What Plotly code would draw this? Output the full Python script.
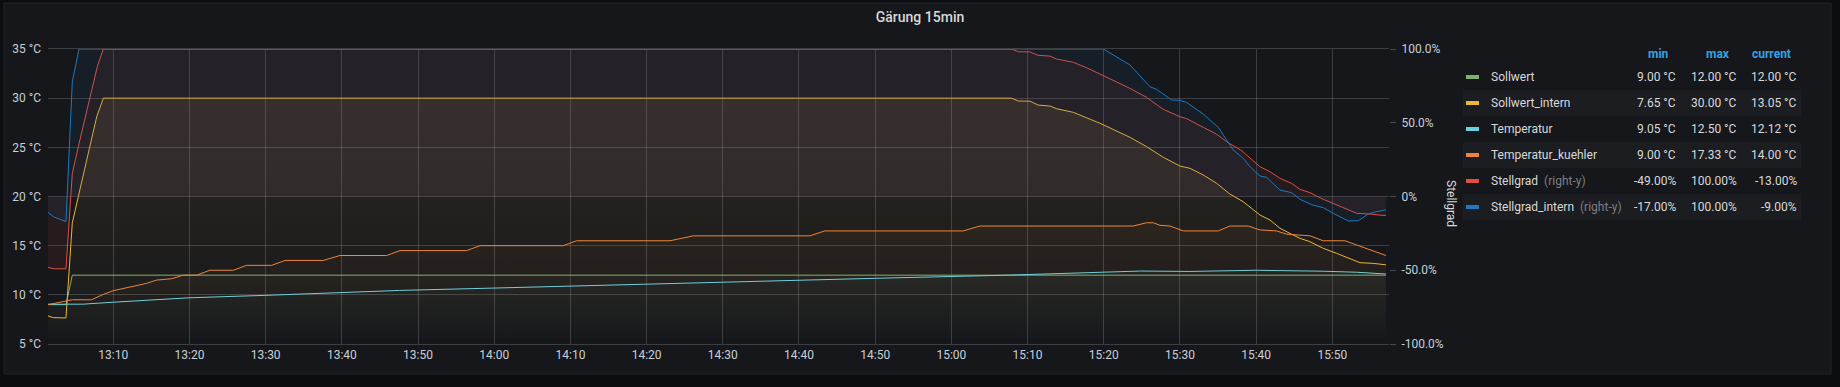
import pandas as pd
import plotly.graph_objects as go

BASE = pd.Timestamp("2021-03-20 13:00:00")

# ---- data (minutes after 13:00, values) ----
sollwert_t = [1.43, 3.79, 4.62, 177.04]
sollwert_v = [9.0, 9.0, 12.0, 12.0]

sollwert_intern_t = [1.43, 2.13, 3.79, 4.62, 5.41, 7.82, 8.69, 127.9, 128.78, 130.31,
                     131.4, 132.94, 133.82, 136.0, 137.76, 139.5, 143.44, 145.63, 147.81, 150.0,
                     151.31, 153.06, 154.82, 156.56, 158.31, 160.5, 161.82, 163.13, 164.66, 165.75,
                     167.07, 168.81, 170.57, 171.88, 173.63, 175.38, 177.04]
sollwert_intern_v = [7.85, 7.68, 7.65, 17.34, 20.0, 28.1, 30.0, 30.0, 29.71, 29.7,
                     29.3, 29.2, 28.93, 28.56, 28.0, 27.45, 26.02, 25.07, 23.99, 23.1,
                     22.87, 22.19, 21.34, 20.25, 19.47, 18.12, 17.61, 16.77, 16.16, 15.75,
                     15.4, 14.73, 14.22, 13.82, 13.27, 13.2, 13.05]

temperatur_t = [1.43, 6.0, 10.0, 20.0, 30.0, 40.0, 47.6, 58.0, 70.0, 82.0,
                93.5, 110.0, 127.3, 139.0, 144.8, 151.3, 160.0, 168.8, 173.2, 177.04]
temperatur_v = [9.05, 9.05, 9.25, 9.7, 9.95, 10.25, 10.45, 10.65, 10.9, 11.1,
                11.35, 11.68, 12.0, 12.25, 12.42, 12.38, 12.5, 12.4, 12.3, 12.12]

kuehler_t = [1.43, 3.79, 4.62, 7.16, 8.69, 10.0, 11.31, 12.85, 14.38, 15.69,
             17.66, 19.19, 20.94, 22.69, 25.75, 27.5, 30.79, 32.54, 37.56, 39.75,
             45.88, 47.63, 56.38, 58.13, 69.06, 70.82, 83.07, 86.13, 101.43, 103.4,
             121.57, 123.75, 143.87, 145.63, 146.5, 147.38, 148.69, 150.44, 155.03, 156.56,
             158.97, 160.5, 162.7, 164.0, 167.07, 168.81, 171.66, 173.2, 174.94, 177.04]
kuehler_v = [9.0, 9.37, 9.5, 9.5, 10.05, 10.42, 10.66, 10.93, 11.17, 11.5,
             11.64, 12.0, 12.0, 12.5, 12.5, 13.0, 13.0, 13.5, 13.5, 14.0,
             14.0, 14.5, 14.5, 15.0, 15.0, 15.5, 15.5, 16.0, 16.0, 16.5,
             16.5, 17.0, 17.0, 17.33, 17.33, 17.07, 17.0, 16.5, 16.5, 17.0,
             17.0, 16.6, 16.5, 16.17, 16.0, 15.5, 15.5, 15.07, 14.56, 14.0]

stellgrad_t = [1.43, 2.13, 3.79, 4.62, 5.41, 7.16, 7.9, 8.69, 127.9, 128.78,
               130.31, 131.4, 132.94, 133.82, 136.0, 137.76, 139.5, 143.44, 145.63, 147.81,
               150.0, 150.88, 153.06, 154.82, 156.13, 158.1, 160.5, 161.82, 163.13, 164.66,
               165.75, 167.07, 168.81, 170.13, 171.88, 173.2, 174.94, 177.04]
stellgrad_v = [-48, -49, -49, 15.7, 33.8, 72, 88, 100, 100, 98.2,
               98, 95.7, 95.2, 93.2, 91, 87.3, 83, 73.3, 67.2, 59.1,
               54.1, 52.8, 46.9, 42.2, 37.2, 31.1, 20.2, 16.8, 12.3, 8.9,
               4.9, 2.6, -1.9, -4.6, -8.3, -11.4, -11.9, -13.0]

stellgrad_intern_t = [1.43, 2.13, 3.79, 4.62, 5.5, 139.94, 143.44, 146.07, 146.94, 148.91,
                      150.0, 150.88, 153.06, 155.03, 157.0, 158.31, 159.19, 160.5, 161.38, 163.13,
                      164.66, 165.75, 167.29, 168.81, 170.13, 172.09, 173.41, 174.72, 175.82, 177.04]
stellgrad_intern_v = [-10.7, -13.7, -17.0, 77.8, 100, 100, 89.2, 74.4, 72.7, 65.4,
                      65.2, 63.8, 55.9, 46.9, 31.5, 25.9, 20.2, 13.9, 13.0, 4.4,
                      2.6, -1.9, -5.6, -7.6, -11.4, -16.6, -16.4, -11.9, -10.3, -9.0]

series_names = ["Sollwert", "Sollwert_intern", "Temperatur", "Temperatur_kuehler",
                "Stellgrad", "Stellgrad_intern"]
series_right = [False, False, False, False, True, True]
legend_min = ["9.00 °C", "7.65 °C", "9.05 °C", "9.00 °C", "-49.00%", "-17.00%"]
legend_max = ["12.00 °C", "30.00 °C", "12.50 °C", "17.33 °C", "100.00%", "100.00%"]
legend_cur = ["12.00 °C", "13.05 °C", "12.12 °C", "14.00 °C", "-13.00%", "-9.00%"]

left_ticks = [5, 10, 15, 20, 25, 30, 35]
left_ticktext = ["5 °C", "10 °C", "15 °C", "20 °C", "25 °C", "30 °C", "35 °C"]
right_ticks = [-100, -50, 0, 50, 100]
right_ticktext = ["-100.0%", "-50.0%", "0%", "50.0%", "100.0%"]

# ---- style ----
COLORS = {"Sollwert": (126, 178, 109), "Sollwert_intern": (234, 184, 57),
          "Temperatur": (110, 208, 224), "Temperatur_kuehler": (239, 132, 60),
          "Stellgrad": (226, 77, 66), "Stellgrad_intern": (31, 120, 193)}
FONT = "Roboto, Inter, sans-serif"
TXT = "#d8d9da"
AX = "#c7d0d9"
GRID = "rgba(255,255,255,0.17)"
W, H = 1840, 387
PL, PR, PT, PB = 48, 1389, 49, 344


def rgb(c, a=1.0):
    return f"rgba({c[0]},{c[1]},{c[2]},{a})"


def px(x):
    return (x - PL) / (PR - PL)


def py(y):
    return (PB - y) / (PB - PT)


def tt(mins):
    return [BASE + pd.Timedelta(minutes=m) for m in mins]


data = {
    "Sollwert": (sollwert_t, sollwert_v),
    "Sollwert_intern": (sollwert_intern_t, sollwert_intern_v),
    "Temperatur": (temperatur_t, temperatur_v),
    "Temperatur_kuehler": (kuehler_t, kuehler_v),
    "Stellgrad": (stellgrad_t, stellgrad_v),
    "Stellgrad_intern": (stellgrad_intern_t, stellgrad_intern_v),
}

fig = go.Figure()
for name, right in zip(series_names, series_right):
    t, v = data[name]
    c = COLORS[name]
    kw = dict(x=tt(t), y=v, mode="lines", name=name, line=dict(color=rgb(c), width=1),
              fill="tozeroy", showlegend=False, hoverinfo="skip")
    if right:
        kw["yaxis"] = "y2"
        kw["fillcolor"] = rgb(c, 0.08)
    else:
        kw["fillgradient"] = dict(type="vertical", start=5, stop=35,
                                  colorscale=[[0, rgb(c, 0.0)], [1, rgb(c, 0.13)]])
    fig.add_trace(go.Scatter(**kw))

shapes = []
annotations = []
# panel background
shapes.append(dict(type="rect", xref="paper", yref="paper", x0=px(4), x1=px(1831),
                   y0=py(374), y1=py(3), fillcolor="#16171b",
                   line=dict(color="#222428", width=1), layer="below"))

# legend table
row_y = [77 + 26 * i for i in range(6)]
for i, name in enumerate(series_names):
    yc = row_y[i]
    if i % 2 == 1:
        shapes.append(dict(type="rect", xref="paper", yref="paper", x0=px(1463), x1=px(1801),
                           y0=py(yc + 13), y1=py(yc - 13), fillcolor="#1c1d21",
                           line=dict(width=0), layer="below"))
    shapes.append(dict(type="rect", xref="paper", yref="paper", x0=px(1466), x1=px(1479),
                       y0=py(yc + 2), y1=py(yc - 2), fillcolor=rgb(COLORS[name]),
                       line=dict(width=0)))
    label = name
    if series_right[i]:
        label += "&nbsp;&nbsp;<span style='color:#7b7f86'>(right-y)</span>"
    annotations.append(dict(text=label, x=px(1489), y=py(yc), xref="paper", yref="paper",
                            xanchor="left", yanchor="middle", showarrow=False,
                            font=dict(size=12, color=TXT, family=FONT)))
    for col, xr in ((legend_min, 1678), (legend_max, 1739), (legend_cur, 1799)):
        annotations.append(dict(text=col[i], x=px(xr), y=py(yc), xref="paper", yref="paper",
                                xanchor="right", yanchor="middle", showarrow=False,
                                font=dict(size=12, color=TXT, family=FONT)))
for hdr, xr in (("min", 1671), ("max", 1732), ("current", 1793)):
    annotations.append(dict(text=f"<b>{hdr}</b>", x=px(xr), y=py(54), xref="paper", yref="paper",
                            xanchor="right", yanchor="middle", showarrow=False,
                            font=dict(size=12, color="#33a2e5", family=FONT)))

# right axis title
annotations.append(dict(text="Stellgrad", x=px(1451), y=py(203), xref="paper", yref="paper",
                        xanchor="center", yanchor="middle", showarrow=False, textangle=90,
                        font=dict(size=12, color=TXT, family=FONT)))

t0 = BASE + pd.Timedelta(minutes=1.43)
t1 = BASE + pd.Timedelta(minutes=177.44)

fig.update_layout(
    width=W, height=H,
    margin=dict(l=PL, r=W - PR, t=PT, b=H - PB, pad=0),
    paper_bgcolor="#0c0d10",
    plot_bgcolor="rgba(0,0,0,0)",
    title=dict(text="Gärung 15min", x=0.5, xref="container", xanchor="center",
               y=(H - 17) / H, yref="container", yanchor="middle",
               font=dict(size=14, color=TXT, family=FONT, weight=500)),
    font=dict(family=FONT, color=AX, size=12),
    shapes=shapes,
    annotations=annotations,
    xaxis=dict(type="date", range=[t0, t1], tickformat="%H:%M", dtick=10 * 60 * 1000,
               tick0=BASE, showgrid=True, gridcolor=GRID, gridwidth=1,
               showline=True, mirror=True, linecolor=GRID, linewidth=1,
               zeroline=False, ticks="", tickfont=dict(size=12, color=AX, family=FONT),
               fixedrange=True),
    yaxis=dict(range=[5, 35], tickmode="array", tickvals=left_ticks, ticktext=left_ticktext,
               showgrid=True, gridcolor=GRID, gridwidth=1, zeroline=False, showline=False,
               ticks="", ticklabelstandoff=6,
               tickfont=dict(size=12, color=AX, family=FONT)),
    yaxis2=dict(range=[-100, 100], overlaying="y", side="right", tickmode="array",
                tickvals=right_ticks, ticktext=right_ticktext, showgrid=False, zeroline=False,
                showline=False, ticks="outside", ticklen=6, tickcolor="#4a4b4f", tickwidth=1,
                ticklabelstandoff=3,
                tickfont=dict(size=12, color=AX, family=FONT)),
)

fig.write_html("out.html")
